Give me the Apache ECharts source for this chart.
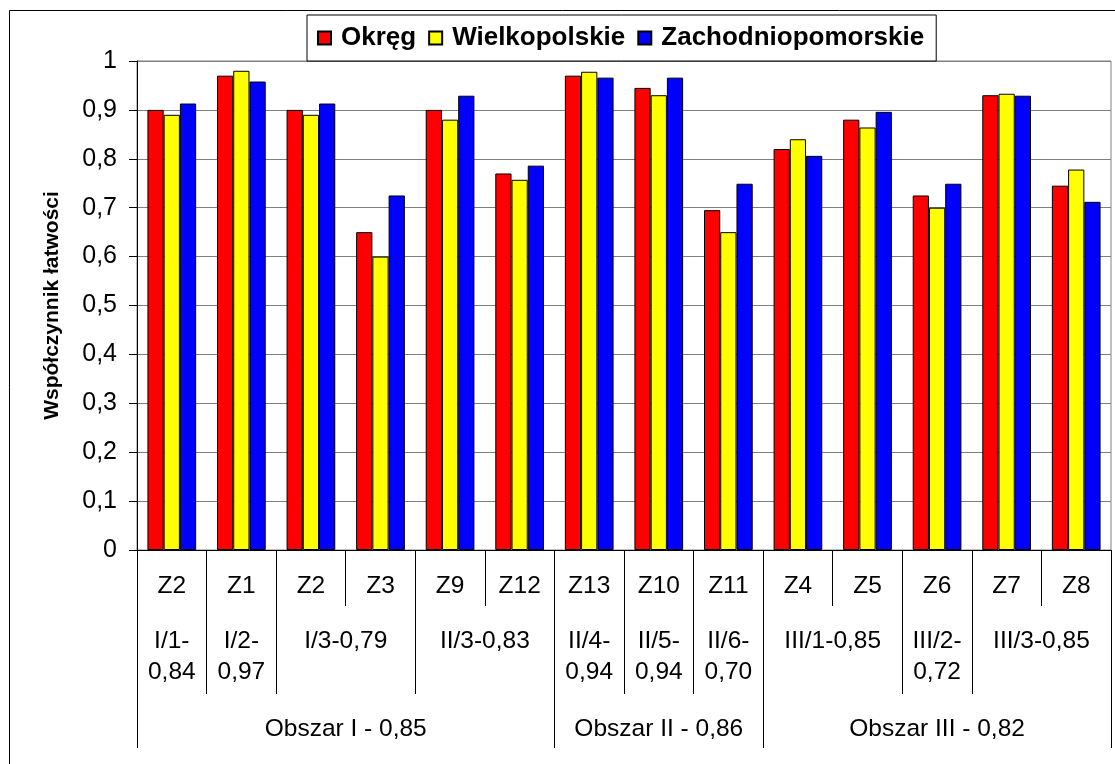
<!DOCTYPE html>
<html>
<head>
<meta charset="utf-8">
<script src="https://cdn.jsdelivr.net/npm/echarts@6/dist/echarts.min.js"></script>
<style>
  html, body { margin: 0; padding: 0; background: #fff; }
  #chart { width: 1115px; height: 764px; }
</style>
</head>
<body>
<div id="chart"></div>
<script>
// Task categories (first label row)
const categories = ['Z2', 'Z1', 'Z2', 'Z3', 'Z9', 'Z12', 'Z13', 'Z10', 'Z11', 'Z4', 'Z5', 'Z6', 'Z7', 'Z8'];

// Series values (facility index)
const seriesNames = ['Okręg', 'Wielkopolskie', 'Zachodniopomorskie'];
const okreg = [0.90, 0.97, 0.90, 0.65, 0.90, 0.77, 0.97, 0.945, 0.695, 0.82, 0.88, 0.725, 0.93, 0.745];
const wielkopolskie = [0.89, 0.98, 0.89, 0.60, 0.88, 0.757, 0.978, 0.93, 0.65, 0.84, 0.864, 0.70, 0.933, 0.778];
const zachodniopomorskie = [0.913, 0.958, 0.913, 0.725, 0.929, 0.786, 0.966, 0.966, 0.749, 0.806, 0.896, 0.749, 0.929, 0.712];

// Second label row: skill groups (label, first category index, number of categories)
const skillLabels = ['I/1-\n0,84', 'I/2-\n0,97', 'I/3-0,79', 'II/3-0,83', 'II/4-\n0,94', 'II/5-\n0,94', 'II/6-\n0,70', 'III/1-0,85', 'III/2-\n0,72', 'III/3-0,85'];
const skillStarts = [0, 1, 2, 4, 6, 7, 8, 9, 11, 12];
const skillSpans = [1, 1, 2, 2, 1, 1, 1, 2, 1, 2];

// Third label row: areas
const areaLabels = ['Obszar I - 0,85', 'Obszar II - 0,86', 'Obszar III - 0,82'];
const areaStarts = [0, 6, 9];
const areaSpans = [6, 3, 5];

// Y axis ticks
const yMin = 0, yMax = 1, yStep = 0.1;

const colors = ['#FF0000', '#FFFF00', '#0000FF'];
const values = [okreg, wielkopolskie, zachodniopomorskie];
const FONT = "'Liberation Sans', Arial, sans-serif";
const LABEL_SIZE = 24.5;
const n = categories.length;

// Helper: centres and boundaries on a 0..n value scale that shares the category band layout
function centres(starts, spans) { return starts.map((s, i) => s + spans[i] / 2); }
function bounds(starts, spans) {
  const b = starts.slice();
  b.push(starts[starts.length - 1] + spans[spans.length - 1]);
  return b;
}
const skillCentres = centres(skillStarts, skillSpans);
const areaCentres = centres(areaStarts, areaSpans);
const skillMap = {}; skillCentres.forEach((c, i) => { skillMap[c] = skillLabels[i]; });
const areaMap = {}; areaCentres.forEach((c, i) => { areaMap[c] = areaLabels[i]; });

const chart = echarts.init(document.getElementById('chart'), null, { renderer: 'canvas' });

const labelAxisBase = {
  type: 'value', gridIndex: 0, position: 'bottom', min: 0, max: n,
  axisLine: { show: false }, splitLine: { show: false }
};

chart.setOption({
  animation: false,
  backgroundColor: '#fff',
  textStyle: { fontFamily: FONT },
  graphic: [{
    type: 'rect', z: -10, silent: true,
    shape: { x: 9.5, y: 10.5, width: 1200, height: 1000 },
    style: { fill: '#fff', stroke: '#000', lineWidth: 1 }
  }],
  legend: {
    data: seriesNames,
    left: 307, top: 15,
    padding: [10, 12, 10, 10],
    itemGap: 12,
    itemWidth: 13, itemHeight: 13,
    icon: 'rect',
    backgroundColor: '#fff', borderColor: '#000', borderWidth: 1,
    textStyle: { fontFamily: FONT, fontWeight: 'bold', fontSize: 26, lineHeight: 26, color: '#000', padding: [0, 0, 0, 5] }
  },
  grid: {
    left: 137, right: 4, top: 61, bottom: 214,
    show: true, borderColor: '#808080', borderWidth: 1, backgroundColor: 'transparent'
  },
  xAxis: [
    {
      type: 'category', data: categories, position: 'bottom',
      axisLine: { show: true, lineStyle: { color: '#000', width: 1 } },
      axisTick: { show: true, length: 56, lineStyle: { color: '#000' } },
      axisLabel: { color: '#000', fontSize: LABEL_SIZE, fontFamily: FONT, margin: 24, interval: 0 },
      splitLine: { show: false }
    },
    Object.assign({}, labelAxisBase, {
      axisTick: { show: true, length: 144, customValues: bounds(skillStarts, skillSpans), lineStyle: { color: '#000' } },
      axisLabel: {
        show: true, customValues: skillCentres, margin: 76,
        color: '#000', fontSize: LABEL_SIZE, fontFamily: FONT, lineHeight: 31, verticalAlign: 'top',
        formatter: v => skillMap[v] || ''
      }
    }),
    Object.assign({}, labelAxisBase, {
      axisTick: { show: true, length: 198, customValues: bounds(areaStarts, areaSpans), lineStyle: { color: '#000' } },
      axisLabel: {
        show: true, customValues: areaCentres, margin: 167,
        color: '#000', fontSize: LABEL_SIZE, fontFamily: FONT, lineHeight: 25, verticalAlign: 'top',
        formatter: v => areaMap[v] || ''
      }
    })
  ],
  yAxis: {
    type: 'value', min: yMin, max: yMax, interval: yStep,
    name: 'Współczynnik łatwości', nameLocation: 'middle', nameRotate: 90, nameGap: 74,
    nameTextStyle: { fontFamily: FONT, fontWeight: 'bold', fontSize: 21, color: '#000' },
    axisLine: { show: true, lineStyle: { color: '#000', width: 1 } },
    axisTick: { show: true, length: 8, lineStyle: { color: '#000' } },
    axisLabel: {
      color: '#000', fontSize: 25, fontFamily: FONT, margin: 20,
      formatter: v => String(Math.round(v * 10) / 10).replace('.', ',')
    },
    splitLine: { show: true, lineStyle: { color: '#808080', width: 1 } }
  },
  series: seriesNames.map((name, i) => ({
    name, type: 'bar', xAxisIndex: 0, data: values[i],
    barGap: '0%', barCategoryGap: '30%',
    itemStyle: { color: colors[i], borderColor: '#000', borderWidth: 1 }
  }))
});
</script>
</body>
</html>
